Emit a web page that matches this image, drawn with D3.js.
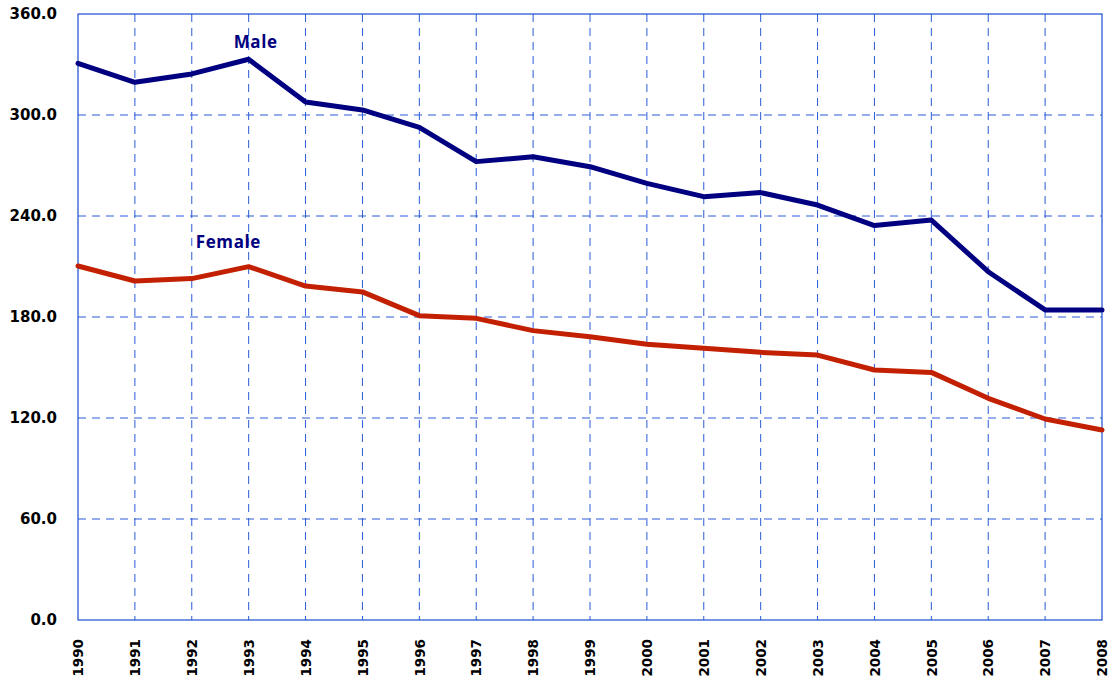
<!DOCTYPE html>
<html>
<head>
<meta charset="utf-8">
<script src="https://cdn.jsdelivr.net/npm/d3@7"></script>
<style>
  body { margin: 0; background: #fff; }
  svg text.axlbl { font-family: "DejaVu Sans", Verdana, sans-serif !important; font-weight: bold !important; }
</style>
</head>
<body>
<div id="chart"></div>
<script>
var years = [1990, 1991, 1992, 1993, 1994, 1995, 1996, 1997, 1998, 1999,
             2000, 2001, 2002, 2003, 2004, 2005, 2006, 2007, 2008];
var male = [330.7, 319.4, 324.4, 333.1, 307.7, 303.0, 292.7, 272.3, 275.2, 269.3,
            259.4, 251.5, 253.9, 246.5, 234.3, 237.6, 206.9, 184.2, 184.2];
var female = [210.3, 201.4, 202.8, 209.9, 198.4, 194.9, 180.8, 179.2, 171.9, 168.3,
              163.8, 161.4, 159.0, 157.4, 148.5, 147.1, 131.7, 119.4, 112.9];
var yTicks = [0, 60, 120, 180, 240, 300, 360];
var seriesNames = ["Male", "Female"];

var width = 1112, height = 680;
var margin = {top: 14, right: 10, bottom: 60, left: 78};
var plotW = width - margin.left - margin.right;
var plotH = height - margin.top - margin.bottom;

var svg = d3.select("#chart").append("svg")
	.attr("width", width)
	.attr("height", height);

var g = svg.append("g")
	.attr("transform", "translate(" + margin.left + "," + margin.top + ")");

var x = d3.scalePoint().domain(years).range([0, plotW]);
var y = d3.scaleLinear().domain([0, 360]).range([plotH, 0]);

// grid
g.append("g").selectAll("line")
	.data(yTicks.slice(1, -1))
	.enter().append("line")
	.attr("x1", 0).attr("x2", plotW)
	.attr("y1", function(d) { return y(d); })
	.attr("y2", function(d) { return y(d); })
	.attr("stroke", "#2a5bd7")
	.attr("stroke-width", 1)
	.attr("stroke-dasharray", "8,6");

g.append("g").selectAll("line")
	.data(years.slice(1, -1))
	.enter().append("line")
	.attr("x1", function(d) { return x(d); })
	.attr("x2", function(d) { return x(d); })
	.attr("y1", 0).attr("y2", plotH)
	.attr("stroke", "#2a5bd7")
	.attr("stroke-width", 1)
	.attr("stroke-dasharray", "8,6");

// frame
g.append("rect")
	.attr("x", 0).attr("y", 0)
	.attr("width", plotW).attr("height", plotH)
	.attr("fill", "none")
	.attr("stroke", "#1a4fd0")
	.attr("stroke-width", 1.2);

// axes
var yAxis = d3.axisLeft(y).tickValues(yTicks).tickSize(0).tickPadding(21)
	.tickFormat(d3.format(".1f"));
var ya = g.append("g").call(yAxis);
ya.select(".domain").remove();
ya.selectAll("text")
	.attr("class", "axlbl")
	.attr("fill", "#000")
	.style("font-size", "15px");

var xAxis = d3.axisBottom(x).tickSize(0).tickPadding(0).tickFormat(d3.format("d"));
var xa = g.append("g").attr("transform", "translate(0," + plotH + ")").call(xAxis);
xa.select(".domain").remove();
xa.selectAll("text")
	.attr("class", "axlbl")
	.attr("fill", "#000")
	.style("font-size", "13.5px")
	.attr("text-anchor", "end")
	.attr("transform", "rotate(-90)")
	.attr("x", -19)
	.attr("y", 0)
	.attr("dy", "0.35em");

// lines
var line = d3.line()
	.x(function(d, i) { return x(years[i]); })
	.y(function(d) { return y(d); });

g.append("path").datum(male)
	.attr("d", line)
	.attr("fill", "none")
	.attr("stroke", "#000080")
	.attr("stroke-width", 5)
	.attr("stroke-linejoin", "round")
	.attr("stroke-linecap", "round");

g.append("path").datum(female)
	.attr("d", line)
	.attr("fill", "none")
	.attr("stroke", "#c22000")
	.attr("stroke-width", 5)
	.attr("stroke-linejoin", "round")
	.attr("stroke-linecap", "round");

// series labels
var labels = [
	{name: seriesNames[0], year: 1993, value: 340, dx: -15},
	{name: seriesNames[1], year: 1992, value: 221, dx: 4}
];
g.selectAll("text.lbl")
	.data(labels)
	.enter().append("text")
	.attr("class", "lbl")
	.attr("x", function(d) { return x(d.year) + d.dx; })
	.attr("y", function(d) { return y(d.value); })
	.attr("font-family", "'Open Sans', sans-serif")
	.attr("font-weight", "bold")
	.attr("font-size", "17px")
	.attr("letter-spacing", "0.6px")
	.attr("fill", "#000080")
	.text(function(d) { return d.name; });
</script>
</body>
</html>
